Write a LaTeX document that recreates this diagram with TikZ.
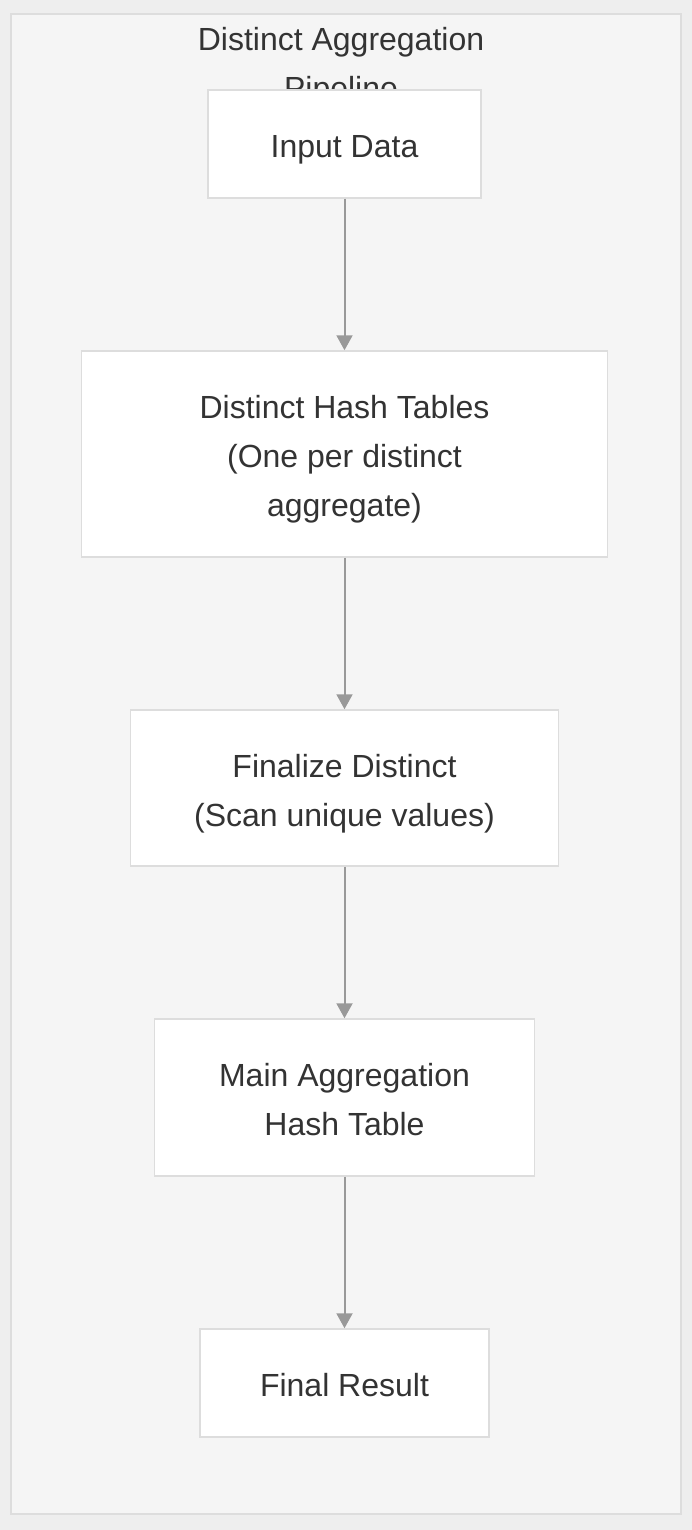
\documentclass[tikz,border=0pt]{standalone}
\usepackage{fontspec}
\setmainfont{Liberation Sans}
\usetikzlibrary{arrows.meta}
\definecolor{bgout}{HTML}{EEEEEE}
\definecolor{bgin}{HTML}{F5F5F5}
\definecolor{bordc}{HTML}{DDDDDD}
\definecolor{txtc}{HTML}{333333}
\definecolor{arrc}{HTML}{999999}
\newcommand{\tstrut}{\rule[-11pt]{0pt}{49pt}}
\tikzset{
  stepbox/.style={draw=bordc, line width=1.5pt, fill=white, inner sep=0pt, align=center,
    text=txtc, font=\fontsize{32}{49}\selectfont},
  flow/.style={draw=arrc, line width=2pt, -{Triangle[width=16pt,length=15pt]}}
}
\begin{document}
\begin{tikzpicture}[x=1pt,y=-1pt]
\useasboundingbox (0,0) rectangle (692,1530);
\fill[bgout] (0,0) rectangle (692,1530);
\draw[draw=bordc, fill=bgin, line width=1.5pt] (11,14) rectangle (681,1514);
\node[anchor=north, inner sep=0pt, align=center, text=txtc, font=\fontsize{32}{49}\selectfont] (title) at (341,27.5) {Distinct Aggregation\\Pipeline};
\node[stepbox, minimum width=273pt, minimum height=108pt] (in) at (344.5,144) {\tstrut Input Data\tstrut};
\node[stepbox, minimum width=526pt, minimum height=206pt] (dh) at (344.5,454) {\tstrut Distinct Hash Tables\\(One per distinct\\aggregate)\tstrut};
\node[stepbox, minimum width=428pt, minimum height=156pt] (fd) at (344.5,788) {\tstrut Finalize Distinct\\(Scan unique values)\tstrut};
\node[stepbox, minimum width=380pt, minimum height=157pt] (ma) at (344.5,1097.5) {\tstrut Main Aggregation\\Hash Table\tstrut};
\node[stepbox, minimum width=289pt, minimum height=108pt] (fr) at (344.5,1383) {\tstrut Final Result\tstrut};
\draw[flow] (in.south) -- (dh.north);
\draw[flow] (dh.south) -- (fd.north);
\draw[flow] (fd.south) -- (ma.north);
\draw[flow] (ma.south) -- (fr.north);
\end{tikzpicture}
\end{document}
